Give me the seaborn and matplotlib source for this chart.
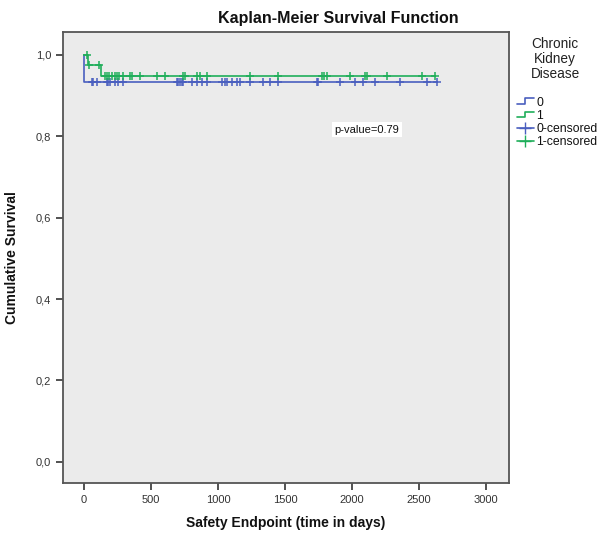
import numpy as np
import pandas as pd
import matplotlib
matplotlib.use("Agg")
import matplotlib.pyplot as plt
import seaborn as sns
from matplotlib.lines import Line2D
from matplotlib.legend_handler import HandlerLine2D
from matplotlib.ticker import FuncFormatter

# ---- data ----
# group 0 (no CKD): step survival curve
g0_step_t = [0, 2, 2632]
g0_step_s = [1.0, 0.933, 0.933]
g0_cens_t = [57, 70, 100, 169, 182, 194, 231, 256, 289, 692, 704, 716, 729, 741,
             803, 841, 878, 915, 1027, 1052, 1065, 1102, 1139, 1164, 1239, 1338,
             1388, 1450, 1736, 1749, 1910, 2022, 2085, 2172, 2358, 2557, 2632]
# group 1 (CKD)
g1_step_t = [0, 30, 125, 2619]
g1_step_s = [1.0, 0.975, 0.947, 0.947]
g1_cens_t = [20, 40, 115, 157, 169, 189, 207, 231, 244, 264, 294, 343, 356, 418,
             547, 604, 741, 754, 841, 866, 915, 1239, 1450, 1774, 1791, 1811, 1985,
             2097, 2109, 2259, 2520, 2619]

groups = ["0", "1"]
colors = {"0": "#4a5fbf", "1": "#1fae5a"}
p_text = "p-value=0.79"
x_ticks = [0, 500, 1000, 1500, 2000, 2500, 3000]
y_ticks = [0.0, 0.2, 0.4, 0.6, 0.8, 1.0]
legend_title = "Chronic\nKidney\nDisease"
legend_labels = ["0", "1", "0-censored", "1-censored"]


def surv_at(times, st, ss):
    idx = np.searchsorted(np.array(st), np.array(times), side="right") - 1
    return np.array(ss)[idx]


steps = pd.concat([
    pd.DataFrame({"t": g0_step_t, "s": g0_step_s, "g": "0"}),
    pd.DataFrame({"t": g1_step_t, "s": g1_step_s, "g": "1"}),
])
cens = pd.concat([
    pd.DataFrame({"t": g0_cens_t, "s": surv_at(g0_cens_t, g0_step_t, g0_step_s), "g": "0"}),
    pd.DataFrame({"t": g1_cens_t, "s": surv_at(g1_cens_t, g1_step_t, g1_step_s), "g": "1"}),
])

sns.set_style("white")
plt.rcParams["font.family"] = ["Liberation Sans", "DejaVu Sans"]
plt.rcParams["text.color"] = "#111111"

fig = plt.figure(figsize=(5.99, 5.34), dpi=100)
ax = fig.add_axes([63 / 599, 1 - 483 / 534, (509 - 63) / 599, (483 - 32) / 534])
ax.set_facecolor("#ebebeb")

for g in groups:
    d = steps[steps.g == g]
    sns.lineplot(data=d, x="t", y="s", ax=ax, color=colors[g], lw=1.2,
                 drawstyle="steps-post", estimator=None, sort=False, legend=False)
for g in groups:
    d = cens[cens.g == g]
    sns.scatterplot(data=d, x="t", y="s", ax=ax, color=colors[g], marker="+",
                    s=36, linewidth=1.1, legend=False, zorder=3)

ax.set_xlim(-157, 3172)
ax.set_ylim(-0.052, 1.056)
ax.set_xticks(x_ticks)
ax.set_yticks(y_ticks)
ax.yaxis.set_major_formatter(FuncFormatter(lambda v, p: f"{v:.1f}".replace(".", ",")))
ax.tick_params(axis="both", direction="out", length=5, width=1.2, color="#333333",
               labelsize=8, labelcolor="#333333", bottom=True, left=True)
for sp in ax.spines.values():
    sp.set_color("#555555")
    sp.set_linewidth(1.3)

ax.set_xlabel("Safety Endpoint (time in days)", fontsize=10, fontweight="bold",
              labelpad=8, color="#111111")
ax.set_ylabel("Cumulative Survival", fontsize=10, fontweight="bold", labelpad=12,
              color="#111111")
fig.text(338 / 599, 1 - 18 / 534, "Kaplan-Meier Survival Function", ha="center",
         va="center", fontsize=11.5, fontweight="bold", color="#111111")

ax.text(2112, 0.816, p_text, ha="center", va="center", fontsize=8,
        bbox=dict(facecolor="white", edgecolor="none", pad=2))


class StepHandler(HandlerLine2D):
    def create_artists(self, legend, orig_handle, xdescent, ydescent, width, height,
                       fontsize, trans):
        x0, w = -xdescent, width
        y0 = -ydescent
        xs = [x0, x0 + 0.5 * w, x0 + 0.5 * w, x0 + w]
        ys = [y0 + 0.15 * height, y0 + 0.15 * height, y0 + 0.85 * height, y0 + 0.85 * height]
        ln = Line2D(xs, ys, color=orig_handle.get_color(), lw=1.2)
        ln.set_transform(trans)
        return [ln]


fig.text(555 / 599, 1 - 59 / 534, legend_title, ha="center", va="center",
         fontsize=9.8, linespacing=1.05, color="#222222")

h0 = Line2D([], [], color=colors["0"])
h1 = Line2D([], [], color=colors["1"])
h0c = Line2D([], [], color=colors["0"], marker="+", markersize=8, lw=1.2)
h1c = Line2D([], [], color=colors["1"], marker="+", markersize=8, lw=1.2)
leg = fig.legend([h0, h1, h0c, h1c], legend_labels, loc="upper left",
                 bbox_to_anchor=(508 / 599, 1 - 88 / 534), frameon=False,
                 fontsize=8.8, handlelength=1.4, handletextpad=0.2,
                 labelspacing=0.1, borderpad=0.2,
                 handler_map={h0: StepHandler(), h1: StepHandler()})

fig.savefig("out.png", dpi=100)
